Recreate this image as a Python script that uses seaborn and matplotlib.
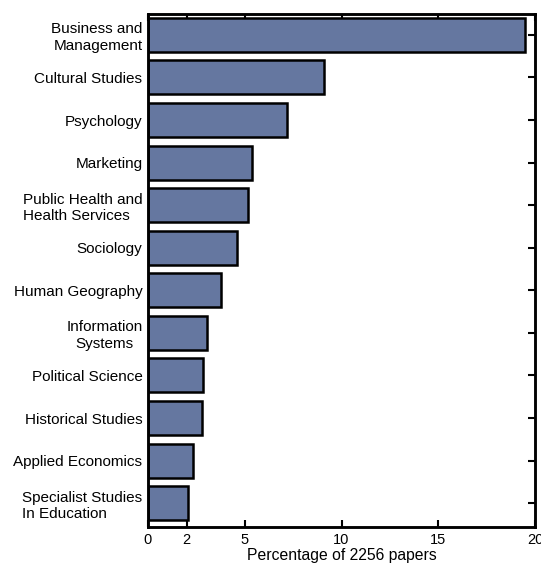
import matplotlib
matplotlib.use('Agg')
import matplotlib.pyplot as plt
import pandas as pd
import seaborn as sns

# %%
subjects = ['Business and\nManagement', 'Cultural Studies', 'Psychology', 'Marketing',
            'Public Health and\nHealth Services', 'Sociology', 'Human Geography',
            'Information\nSystems', 'Political Science', 'Historical Studies',
            'Applied Economics', 'Specialist Studies\nIn Education']
label_align = ['right', 'left', 'left', 'left', 'left', 'left', 'left',
               'center', 'left', 'left', 'left', 'left']
percent = [19.5, 9.1, 7.2, 5.35, 5.15, 4.6, 3.75, 3.05, 2.85, 2.8, 2.3, 2.05]
x_ticks = [0, 2, 5, 10, 15, 20]

df = pd.DataFrame({'subject': subjects, 'percent': percent})

# %%
sns.set_style('white')
plt.rcParams['font.family'] = ['Liberation Sans', 'DejaVu Sans']
plt.rcParams['text.color'] = 'black'
plt.rcParams['xtick.color'] = 'black'
plt.rcParams['ytick.color'] = 'black'
plt.rcParams['axes.labelcolor'] = 'black'

fig = plt.figure(figsize=(5.41, 5.72), dpi=100)
ax = fig.add_axes([148 / 541, 45 / 572, (535 - 148) / 541, 513 / 572])

sns.barplot(data=df, x='percent', y='subject', color='#6577a0', saturation=1,
            edgecolor='black', linewidth=1.8, width=0.8, ax=ax)

ax.set_xlim(0, 20)
ax.set_ylim(11.56, -0.49)
ax.set_xticks(x_ticks)
ax.set_xticklabels([str(t) for t in x_ticks], fontsize=10.5)
ax.set_xlabel('Percentage of 2256 papers', fontsize=11.3, labelpad=1)
ax.set_ylabel('')
ax.tick_params(axis='y', labelsize=11, length=0, pad=4)
ax.tick_params(axis='x', direction='in', top=True, bottom=True, length=5, width=1.5, pad=4)
for lab, al in zip(ax.get_yticklabels(), label_align):
    lab.set_multialignment(al)

# right side ticks at each category
ax2 = ax.twinx()
ax2.set_ylim(ax.get_ylim())
ax2.set_yticks(range(len(subjects)))
ax2.set_yticklabels([])
ax2.tick_params(axis='y', direction='in', length=5, width=1.5)

for a in (ax, ax2):
    for s in a.spines.values():
        s.set_visible(True)
        s.set_color('black')
        s.set_linewidth(1.8)

fig.savefig('out.png', dpi=100)
